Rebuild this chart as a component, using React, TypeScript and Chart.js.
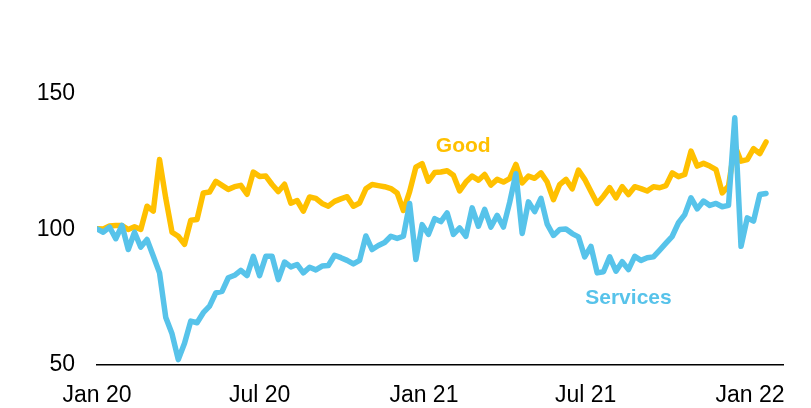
import React, { useEffect, useRef } from "react";
import { Chart, registerables } from "chart.js";

Chart.register(...registerables);

// ---- data ----
const startDate = "2020-01-01";
const stepDays = 7;
const seriesNames = ["Good", "Services"];

const good = [
  100.3, 100.2, 101.3, 101.5, 101.5, 100, 101, 100, 108.6, 106.8,
  125.8, 111.5, 99, 97.5, 94.5, 103.4, 103.7, 113.5, 113.8, 117.8,
  116.3, 114.8, 115.8, 116.3, 113, 121.2, 119.6, 119.7, 116.6, 114,
  116.7, 109.7, 110.7, 106.8, 112, 111.5, 109.6, 108.6, 110.4, 111.3,
  112.1, 108.6, 109.8, 115, 116.6, 116.2, 115.8, 115.1, 113.5, 107,
  114, 123, 124.3, 117.8, 121, 121.2, 121.7, 120, 114.2, 117.5,
  119.7, 118.2, 120.3, 116.4, 118.5, 117.5, 118.8, 124, 117.2, 119.7,
  118.9, 120.9, 117.5, 111, 116.6, 118.5, 115, 121.9, 118.5, 114,
  109.6, 112.3, 115.4, 111.7, 115.8, 112.9, 115.8, 115.1, 114.2, 115.8,
  115.4, 116.2, 120.9, 119.5, 120.3, 128.9, 123.4, 124.4, 123.4, 122.1,
  113.5, 116, 131, 125.2, 125.8, 129.8, 128, 132.3,
];

const services = [
  100.2, 99, 100.9, 96.6, 101.5, 92.6, 99, 93.5, 96.3, 90.2,
  84, 67.5, 61.5, 52, 58, 66.2, 65.6, 69.3, 71.7, 76.6,
  77.2, 82.2, 83.1, 84.9, 83, 90.1, 83, 90.1, 90.1, 81.5,
  88, 86.2, 87.1, 84, 86.1, 85.1, 86.5, 86.7, 90.5, 89.6,
  88.6, 87.3, 88.6, 97.6, 92.6, 94.1, 95.2, 97.5, 96.7, 97.5,
  109.6, 88.9, 101.8, 98.2, 104, 102.9, 106.1, 98.2, 100.6, 97.5,
  108, 101.2, 107.4, 100.9, 105.2, 100.9, 110, 120.6, 98.5, 110.2,
  106.6, 111.5, 102, 97.8, 100, 100.2, 98.5, 97.3, 89.9, 93.8,
  84, 84.4, 89.9, 84.6, 88.1, 85.2, 90.1, 88.6, 89.6, 89.9,
  92.4, 95, 97.5, 102.5, 105.5, 111.7, 107.6, 110.5, 108.9, 109.6,
  108.4, 108.9, 141.2, 93.8, 104.3, 103.1, 112.9, 113.3,
];

const tickDates = ["2020-01-01", "2020-07-01", "2021-01-01", "2021-07-01", "2022-01-01"];
const tickLabels = ["Jan 20", "Jul 20", "Jan 21", "Jul 21", "Jan 22"];
const yTicks = [50, 100, 150];

// ---- helpers ----
const DAY = 86400000;
const dayOf = (d: string) => Math.round((Date.parse(d) - Date.parse(startDate)) / DAY);
const tickDays = tickDates.map(dayOf);
const toPoints = (arr: number[]) => arr.map((v, i) => ({ x: i * stepDays, y: v }));

const GOLD = "#FFC000";
const BLUE = "#57C3EA";
const FONT = '"Liberation Sans", Arial, Helvetica, sans-serif';

// in-chart series labels, anchored in data coordinates
const seriesLabelSpots = [
  { text: seriesNames[0], day: 410, value: 130.8, color: GOLD },
  { text: seriesNames[1], day: 595, value: 74.6, color: BLUE },
];

const seriesLabelPlugin = {
  id: "seriesLabelPlugin",
  afterDatasetsDraw(chart: any) {
    const { ctx, scales } = chart;
    ctx.save();
    ctx.font = `bold 21px ${FONT}`;
    ctx.textAlign = "center";
    ctx.textBaseline = "middle";
    seriesLabelSpots.forEach((s) => {
      ctx.fillStyle = s.color;
      ctx.fillText(s.text, scales.x.getPixelForValue(s.day), scales.y.getPixelForValue(s.value));
    });
    ctx.restore();
  },
};

export default function App() {
  const ref = useRef<HTMLCanvasElement | null>(null);

  useEffect(() => {
    if (!ref.current) return;
    const chart = new Chart(ref.current, {
      type: "line",
      data: {
        datasets: [
          {
            label: seriesNames[1],
            data: toPoints(services),
            borderColor: BLUE,
            backgroundColor: BLUE,
            borderWidth: 5.5,
            pointRadius: 0,
            tension: 0,
            borderJoinStyle: "round",
            borderCapStyle: "round",
            order: 0,
          },
          {
            label: seriesNames[0],
            data: toPoints(good),
            borderColor: GOLD,
            backgroundColor: GOLD,
            borderWidth: 5.5,
            pointRadius: 0,
            tension: 0,
            borderJoinStyle: "round",
            borderCapStyle: "round",
            order: 1,
          },
        ],
      },
      options: {
        animation: false,
        responsive: false,
        devicePixelRatio: 1,
        layout: { padding: { left: 0, top: 94, right: 28, bottom: 0 } },
        plugins: { legend: { display: false }, tooltip: { enabled: false }, title: { display: false } },
        scales: {
          x: {
            type: "linear",
            min: 0,
            max: 768,
            grid: { display: false, drawTicks: false },
            border: { display: true, color: "#000", width: 1.5 },
            afterBuildTicks: (s: any) => {
              s.ticks = tickDays.map((v) => ({ value: v }));
            },
            afterFit: (s: any) => {
              s.height = 43;
            },
            ticks: {
              autoSkip: false,
              maxRotation: 0,
              padding: 17,
              color: "#000",
              font: { family: FONT, size: 23 },
              callback: (_v: any, i: number) => tickLabels[i],
            },
          },
          y: {
            min: 50,
            max: 150,
            grid: { display: false, drawTicks: false },
            border: { display: false },
            afterBuildTicks: (s: any) => {
              s.ticks = yTicks.map((v) => ({ value: v }));
            },
            afterFit: (s: any) => {
              s.width = 97;
            },
            ticks: {
              padding: 22,
              color: "#000",
              font: { family: FONT, size: 23 },
              callback: (v: any) => String(v),
            },
          },
        },
      },
      plugins: [seriesLabelPlugin],
    } as any);
    return () => chart.destroy();
  }, []);

  return (
    <div style={{ position: "absolute", left: 0, top: 0, width: 811, height: 408, background: "#fff" }}>
      <canvas ref={ref} width={811} height={408} style={{ display: "block" }} />
    </div>
  );
}
